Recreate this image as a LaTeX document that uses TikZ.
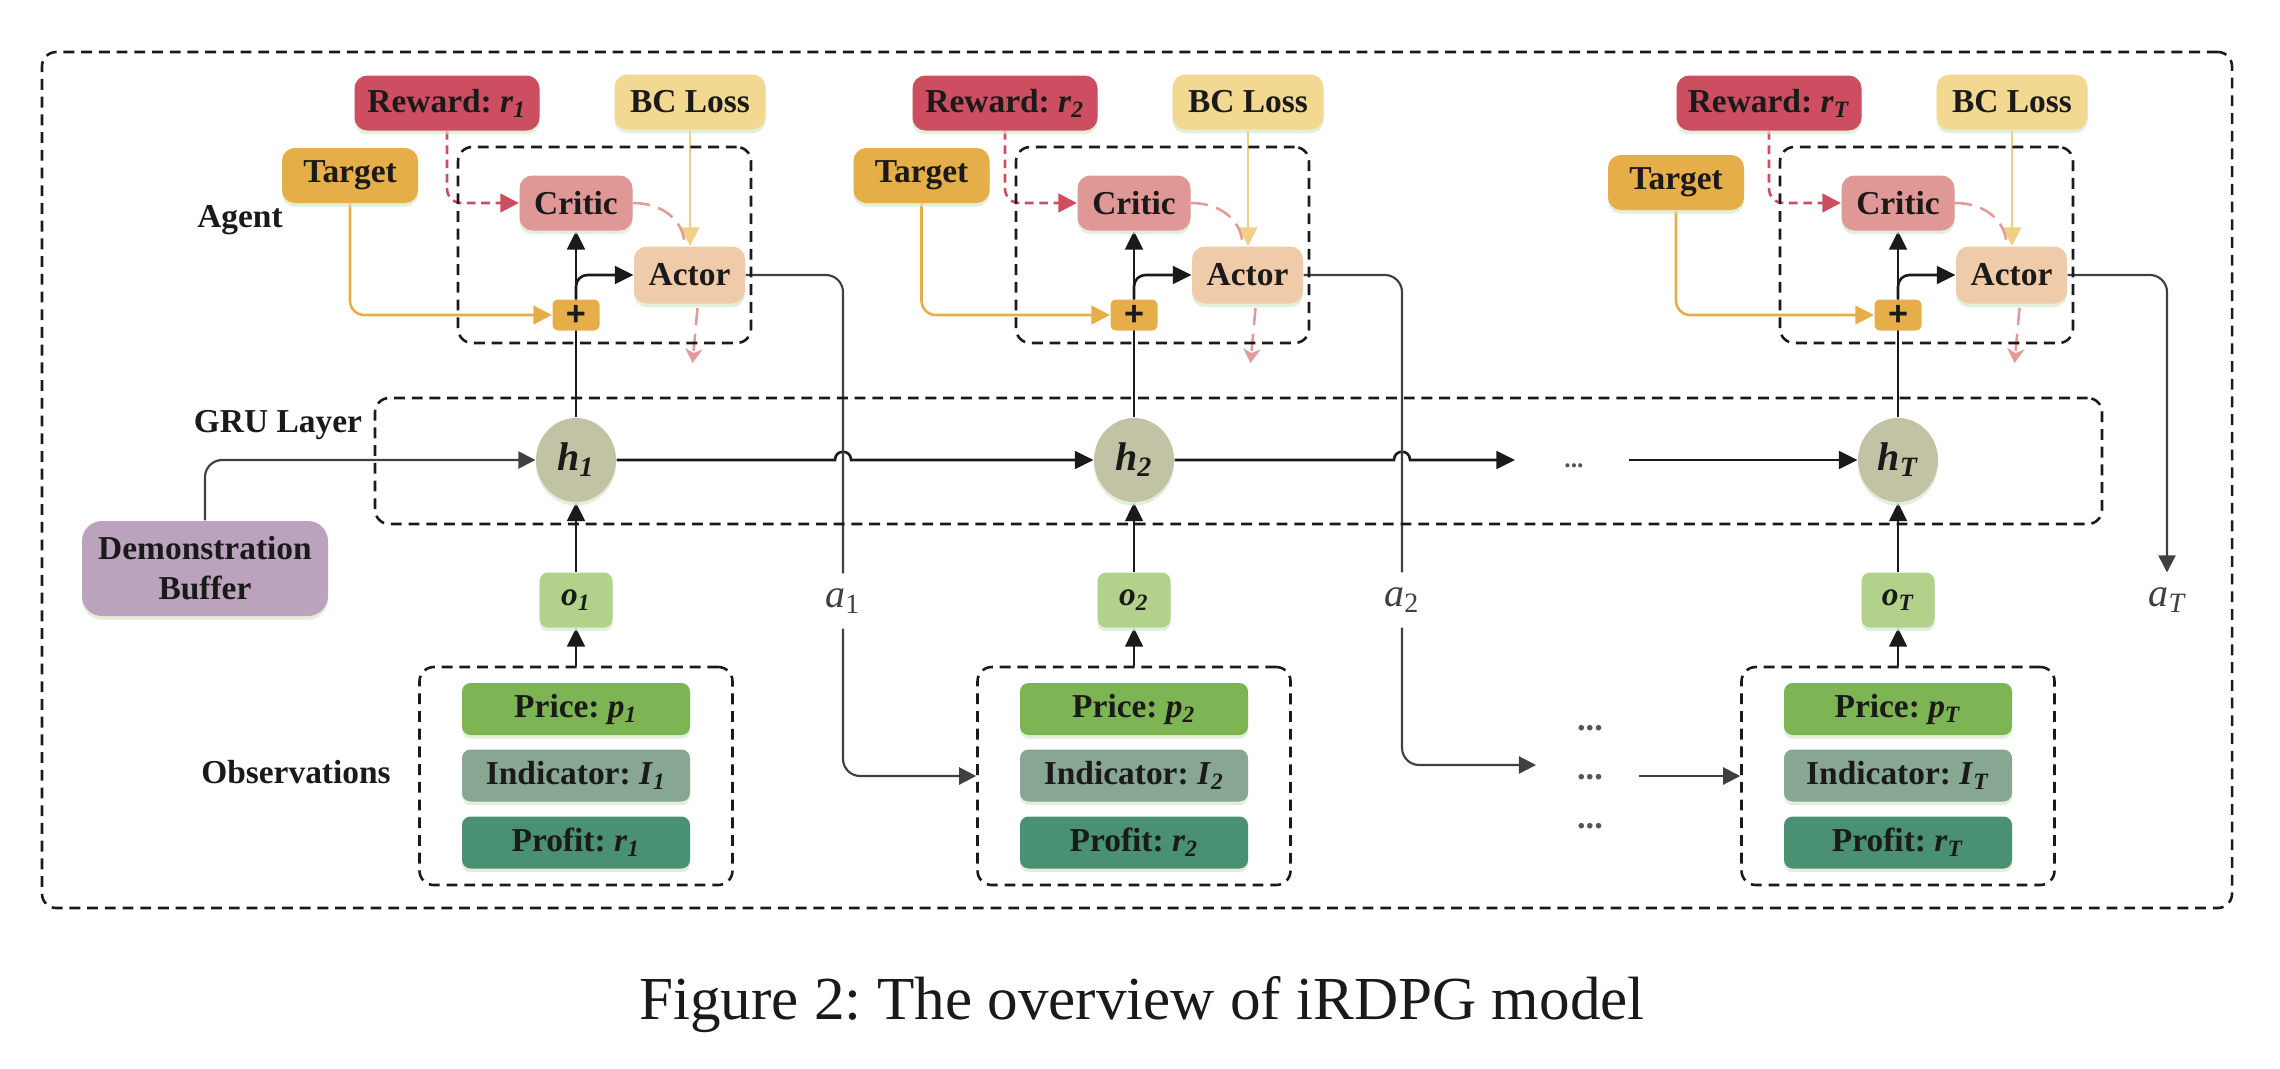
\documentclass[tikz,border=0pt]{standalone}
\usepackage{fontspec}
\setmainfont{Liberation Serif}
\newfontfamily\plusfont{Liberation Sans}
\usetikzlibrary{arrows.meta,shadows,shapes.geometric,calc}
\pgfdeclarelayer{bg}
\pgfsetlayers{bg,main}
\definecolor{cRew}{HTML}{CC4E60}
\definecolor{cBC}{HTML}{F2D891}
\definecolor{cBCl}{HTML}{F0D084}
\definecolor{cTgt}{HTML}{E6AE48}
\definecolor{cCri}{HTML}{DF9896}
\definecolor{cAct}{HTML}{F0CBAA}
\definecolor{cH}{HTML}{C2C3A5}
\definecolor{cObs}{HTML}{B2D18A}
\definecolor{cPri}{HTML}{7DB454}
\definecolor{cInd}{HTML}{87A792}
\definecolor{cPro}{HTML}{4A9072}
\definecolor{cDemo}{HTML}{BCA3BD}
\definecolor{cPink}{HTML}{E39A9B}
\definecolor{cShd}{HTML}{D4E8CC}
\definecolor{cTxt}{HTML}{1A1A1A}
\definecolor{cGray}{HTML}{404040}
\definecolor{cDots}{HTML}{555555}
\frenchspacing
\begin{document}
\begin{tikzpicture}[x=0.35pt,y=-0.35pt,
 px/.style 2 args={minimum width={(#1)*0.35pt}, minimum height={(#2)*0.35pt}},
 lab/.style={font=\fontsize{11.7}{14}\selectfont\bfseries, text=cTxt, inner sep=0pt},
 box/.style={lab, rounded corners=4.5pt, drop shadow={shadow xshift=0pt, shadow yshift=-1.3pt, fill=cShd, opacity=0.7}},
 sbox/.style={box, rounded corners=3pt},
 dbox/.style={draw=cTxt, line width=0.9pt, dash pattern=on 3.8pt off 2.4pt, rounded corners=5pt, inner sep=0pt},
 hnode/.style={ellipse, fill=cH, inner sep=0pt, px={80}{84}, font=\fontsize{14}{16}\selectfont\bfseries\itshape, text=cTxt, drop shadow={shadow xshift=0pt, shadow yshift=-1.3pt, fill=cShd, opacity=0.7}},
 plusbox/.style={fill=cTgt, rounded corners=2pt, inner sep=0pt, font=\plusfont\fontsize{12}{12}\selectfont\bfseries, text=cTxt},
 blk/.style={draw=cTxt, line width=0.9pt, -{Triangle[length=6.5pt,width=6.2pt]}},
 gry/.style={draw=cGray, line width=0.75pt, rounded corners=5pt, -{Triangle[length=6pt,width=6pt]}},
 rdash/.style={draw=cRew, line width=0.9pt, dash pattern=on 3pt off 2pt, rounded corners=5pt, -{Triangle[length=6.5pt,width=6.5pt]}},
 ylw/.style={draw=cTgt, line width=0.9pt, rounded corners=5pt, -{Triangle[length=6.5pt,width=6.5pt]}},
 bcl/.style={draw=cBCl, line width=0.8pt, -{Triangle[length=6.5pt,width=6.5pt]}},
 pnk/.style={draw=cPink, line width=0.9pt, dash pattern=on 6pt off 3pt},
 pnkarr/.style={pnk, -{Stealth[length=5pt,width=6pt,inset=1.5pt]}},
 alab/.style={font=\fontsize{14}{16}\selectfont\itshape, text=cGray, inner sep=0pt, px={40}{54}},
 dotsb/.style={font=\fontsize{12}{12}\selectfont\bfseries, text=cDots, inner sep=0pt},
 dotss/.style={font=\fontsize{9}{9}\selectfont\bfseries, text=cDots, inner sep=0pt}
]
\useasboundingbox (0,0) rectangle (2280,1068);

% containers
\node[dbox, px={2190}{856}] (outer) at (1137,480) {};
\node[dbox, px={1727}{126}] (gru) at (1238.5,461) {};

% side labels
\node[lab] (agentlab) at (240,220) {Agent};
\node[lab] (grulab) at (278,425) {GRU Layer};
\node[lab] (obslab) at (296,772) {Observations};
\node[box, fill=cDemo, px={246}{95}, rounded corners=7pt, align=center] (demo) at (205,568.5) {Demonstration\\Buffer};

% columns
\foreach \cx/\sb/\tx/\ty in {576/1/350/175.5, 1134/2/921.5/175.5, 1898/T/1676/182.5} {
  \node[dbox, px={293}{196}] (agent\sb) at ({\cx+28.5},245) {};
  \node[box, fill=cRew, px={185}{55}] (rew\sb) at ({\cx-129},103) {Reward: \textit{r}\textsubscript{\textit{\sb}}};
  \node[box, fill=cBC, px={151}{55}] (bc\sb) at ({\cx+114},102) {BC Loss};
  \node[box, fill=cTgt, px={136}{55}] (tgt\sb) at (\tx,\ty) {Target};
  \node[box, fill=cCri, px={113}{55}] (cri\sb) at (\cx,203) {Critic};
  \node[box, fill=cAct, px={111}{57}] (act\sb) at ({\cx+113.5},275) {Actor};
  \node[plusbox, px={47}{31}] (plus\sb) at (\cx,315) {+};
  \node[hnode] (h\sb) at (\cx,460) {h\textsubscript{\sb}};
  \node[box, rounded corners=3pt, fill=cObs, px={73}{55}, font=\fontsize{11.7}{14}\selectfont\bfseries\itshape] (o\sb) at (\cx,600) {o\textsubscript{\sb}};
  \node[dbox, px={313}{218}] (obs\sb) at (\cx,776) {};
  \node[sbox, fill=cPri, px={228}{52}] (pri\sb) at (\cx,709) {Price: \textit{p}\textsubscript{\textit{\sb}}};
  \node[sbox, fill=cInd, px={228}{52}] (ind\sb) at (\cx,775.5) {Indicator: \textit{I}\textsubscript{\textit{\sb}}};
  \node[sbox, fill=cPro, px={228}{52}] (pro\sb) at (\cx,842.5) {Profit: \textit{r}\textsubscript{\textit{\sb}}};
  \begin{pgfonlayer}{bg}
    \draw[blk] (h\sb.north) -- (cri\sb.south);
    \draw[blk, rounded corners=4pt] (plus\sb.north) |- (act\sb.west);
    \draw[blk] (o\sb.north) -- (h\sb.south);
    \draw[blk] (obs\sb.north) -- (o\sb.south);
    \draw[ylw] (tgt\sb.south) |- (plus\sb.west);
    \draw[rdash] (rew\sb.south) |- (cri\sb.west);
    \draw[bcl] (bc\sb.south) -- (bc\sb.south |- act\sb.north);
    \draw[pnk] (cri\sb.east) .. controls +(30,0) and +(0,-25) .. ($(act\sb.north)+(-5,0)$);
    \draw[pnkarr] ($(act\sb.south)+(8,4)$) -- ($(act\sb.south)+(3,59)$);
  \end{pgfonlayer}
}

% action labels
\node[alab] (a1) at (843,601) {a\textsubscript{\upshape 1}};
\node[alab] (a2) at (1402,600) {a\textsubscript{\upshape 2}};
\node[alab] (aT) at (2167,600) {a\textsubscript{T}};

% GRU chain
\coordinate (gruend) at (1515,460);
\coordinate (grustart) at (1629,460);
\node[dotss] (gdots) at (1574,466) {...};
\node[dotsb] (d1) at (1590,728) {...};
\node[dotsb] (d2) at (1590,777) {...};
\node[dotsb] (d3) at (1590,826) {...};
\coordinate (dsrc) at (1639,776);
\coordinate (a2end) at (1536,765);

\begin{pgfonlayer}{bg}
  \draw[gry, rounded corners=6pt] (demo.north) |- (h1.west);
  \draw[blk] (h1.east) -- (835,460) .. controls (835,449) and (851,449) .. (851,460) -- (h2.west);
  \draw[blk] (h2.east) -- (1394,460) .. controls (1394,449) and (1410,449) .. (1410,460) -- (gruend);
  \draw[blk] (grustart) -- (hT.west);
  \draw[gry, -, rounded corners=6pt] (act1.east) -| (a1.north);
  \draw[gry, rounded corners=6pt] (a1.south) |- (obs2.west);
  \draw[gry, -, rounded corners=6pt] (act2.east) -| (a2.north);
  \draw[gry, rounded corners=6pt] (a2.south) |- (a2end);
  \draw[gry] (dsrc) -- (obsT.west);
  \draw[gry, rounded corners=6pt] (actT.east) -| (aT.north);
\end{pgfonlayer}

% caption
\node[font=\fontsize{21.4}{24}\selectfont, text=cTxt, anchor=base, inner sep=0pt] (cap) at (1142,1019) {Figure 2: The overview of iRDPG model};
\end{tikzpicture}
\end{document}
